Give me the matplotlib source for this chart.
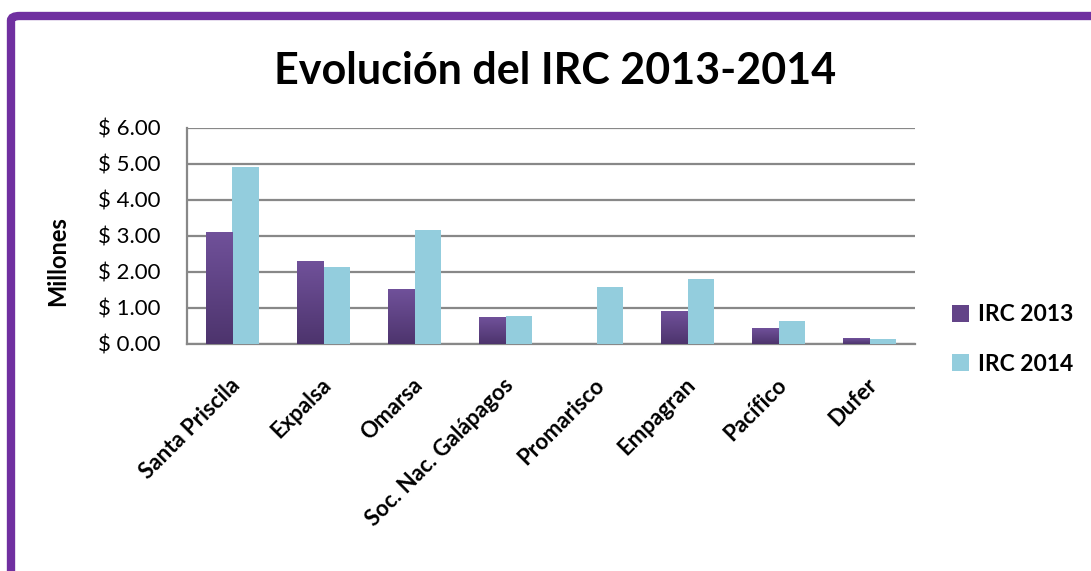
import matplotlib.pyplot as plt
import numpy as np
from matplotlib.patches import FancyBboxPatch
from matplotlib.colors import LinearSegmentedColormap
from matplotlib.transforms import ScaledTranslation

empresas = ['Santa Priscila', 'Expalsa', 'Omarsa', 'Soc. Nac. Galápagos',
            'Promarisco', 'Empagran', 'Pacífico', 'Dufer']
irc_2013 = [3.11, 2.30, 1.52, 0.74, 0.0, 0.91, 0.44, 0.16]
irc_2014 = [4.90, 2.14, 3.15, 0.78, 1.59, 1.81, 0.62, 0.14]
yticks = [0, 1, 2, 3, 4, 5, 6]

plt.rcParams['font.family'] = ['Lato', 'DejaVu Sans']

fig = plt.figure(figsize=(10.91, 5.71), dpi=100)
ax = fig.add_axes([0.1714, 0.398, 0.6673, 0.378])

x = np.arange(len(empresas))
w = 0.286
morado = '#634488'
celeste = '#93CDDD'
b1 = ax.bar(x - w / 2, irc_2013, width=w, color=morado, zorder=3, label='IRC 2013')
b2 = ax.bar(x + w / 2, irc_2014, width=w, color=celeste, zorder=3, label='IRC 2014')

# degradado en las barras moradas
cmap = LinearSegmentedColormap.from_list('grad', ['#4D346D', '#70519A'])
grad = np.linspace(0, 1, 100).reshape(-1, 1)
for p in b1:
    if p.get_height() <= 0:
        continue
    x0, y0 = p.get_x(), p.get_y()
    ax.imshow(grad, cmap=cmap, origin='lower', aspect='auto', zorder=4,
              extent=[x0, x0 + p.get_width(), y0, y0 + p.get_height()])

ax.set_xlim(-0.5, len(empresas) - 0.5)
ax.set_ylim(0, 6)
ax.set_yticks(yticks)
ax.set_yticklabels(['$ %.2f' % v for v in yticks], fontsize=16)
ax.set_xticks(x)
ax.set_xticklabels(empresas, rotation=45, ha='right', rotation_mode='anchor',
                   fontsize=16, fontweight='bold')
ax.tick_params(axis='y', length=0, pad=19)
ax.tick_params(axis='x', length=0, pad=22)
offset = ScaledTranslation(-3 / 100, 0, fig.dpi_scale_trans)
for lbl in ax.get_xticklabels():
    lbl.set_transform(lbl.get_transform() + offset)
ax.grid(axis='y', color='#888888', linewidth=1.6, zorder=0)
for s in ['top', 'right']:
    ax.spines[s].set_visible(False)
for s in ['left', 'bottom']:
    ax.spines[s].set_color('#888888')
    ax.spines[s].set_linewidth(1.6)

fig.text(58 / 1091, 1 - 261 / 571, 'Millones', rotation=90, ha='center', va='center',
         fontsize=17, fontweight='bold')

fig.suptitle('Evolución del IRC 2013-2014', x=0.509, y=0.91, fontsize=31, fontweight='bold')

ax.legend(loc='center left', bbox_to_anchor=(1.022, 0.02), frameon=False,
          prop={'weight': 'bold', 'size': 16.5}, handlelength=0.75,
          handleheight=0.75, handletextpad=0.4, labelspacing=1.25)

# marco morado
marco = FancyBboxPatch((11 / 1091, -0.1), 1.2, 1.1 - 16 / 571,
                       boxstyle='round,pad=0,rounding_size=0.008',
                       transform=fig.transFigure, fill=False,
                       edgecolor='#7030A0', linewidth=6)
fig.patches.append(marco)

fig.savefig('out.png', dpi=100)
